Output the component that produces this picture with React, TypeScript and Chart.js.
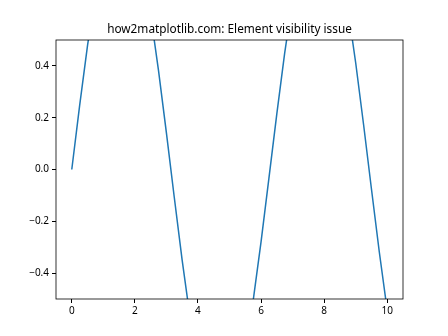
import React, { useEffect, useRef } from "react";
import { Chart, registerables } from "chart.js";

Chart.register(...registerables);

const titleText = "how2matplotlib.com: Element visibility issue";
const xValues = [0, 0.25, 0.5, 0.75, 1, 1.25, 1.5, 1.75, 2, 2.25, 2.5, 2.75, 3, 3.25, 3.5, 3.75, 4, 4.25, 4.5, 4.75, 5, 5.25, 5.5, 5.75, 6, 6.25, 6.5, 6.75, 7, 7.25, 7.5, 7.75, 8, 8.25, 8.5, 8.75, 9, 9.25, 9.5, 9.75, 10];
const yValues = [0, 0.2474, 0.4794, 0.6816, 0.8415, 0.949, 0.9975, 0.984, 0.9093, 0.7781, 0.5985, 0.3817, 0.1411, -0.1082, -0.3508, -0.5716, -0.7568, -0.895, -0.9775, -0.9993, -0.9589, -0.8589, -0.7055, -0.5064, -0.2794, -0.0332, 0.2151, 0.45, 0.657, 0.8231, 0.938, 0.9946, 0.9894, 0.9228, 0.7985, 0.6247, 0.4121, 0.1738, -0.0752, -0.3195, -0.544];
const xTicks = [0, 2, 4, 6, 8, 10];
const yTicks = [-0.4, -0.2, 0, 0.2, 0.4];
const xRange = [-0.5, 10.5];
const yRange = [-0.5, 0.5];

const FONT = "'Noto Sans', 'Open Sans', sans-serif";

export default function App() {
  const ref = useRef<HTMLCanvasElement | null>(null);
  useEffect(() => {
    document.body.style.margin = "0";
    const canvas = ref.current!;
    const framePlugin = {
      id: "frameTitle",
      afterDraw(chart: any) {
        const { ctx, chartArea: a } = chart;
        ctx.save();
        ctx.strokeStyle = "#000";
        ctx.lineWidth = 0.8;
        ctx.strokeRect(a.left, a.top, a.right - a.left, a.bottom - a.top);
        ctx.fillStyle = "#000";
        ctx.font = `11.8px ${FONT}`;
        ctx.textAlign = "center";
        ctx.textBaseline = "alphabetic";
        ctx.fillText(titleText, (a.left + a.right) / 2, a.top - 7);
        ctx.restore();
      },
    };
    const chart = new Chart(canvas, {
      type: "line",
      data: {
        datasets: [
          {
            data: xValues.map((x, i) => ({ x, y: yValues[i] })),
            borderColor: "#1f77b4",
            borderWidth: 1.5,
            pointRadius: 0,
            fill: false,
            tension: 0,
          },
        ],
      },
      options: {
        animation: false,
        responsive: false,
        events: [],
        layout: { padding: { top: 40, right: 45, left: 0, bottom: 0 } },
        plugins: { legend: { display: false }, tooltip: { enabled: false }, title: { display: false } },
        scales: {
          x: {
            type: "linear",
            min: xRange[0],
            max: xRange[1],
            afterBuildTicks: (s: any) => {
              s.ticks = xTicks.map((v) => ({ value: v }));
            },
            afterFit: (s: any) => {
              s.height = 37;
            },
            grid: { drawOnChartArea: false, drawTicks: true, tickLength: 4, tickColor: "#000" },
            border: { display: false },
            ticks: {
              color: "#000",
              padding: 2,
              maxRotation: 0,
              autoSkip: false,
              font: { family: FONT, size: 10 },
              callback: (v: any) => String(v),
            },
          },
          y: {
            type: "linear",
            min: yRange[0],
            max: yRange[1],
            afterBuildTicks: (s: any) => {
              s.ticks = yTicks.map((v) => ({ value: v }));
            },
            afterFit: (s: any) => {
              s.width = 56;
            },
            grid: { drawOnChartArea: false, drawTicks: true, tickLength: 4, tickColor: "#000" },
            border: { display: false },
            ticks: {
              color: "#000",
              padding: 3,
              autoSkip: false,
              font: { family: FONT, size: 10 },
              callback: (v: any) => {
                const n = Number(v);
                const s = Math.abs(n).toFixed(1);
                return n < -1e-9 ? "\u2212" + s : s;
              },
            },
          },
        },
      },
      plugins: [framePlugin],
    });
    return () => chart.destroy();
  }, []);
  return (
    <div style={{ width: 448, height: 336, background: "#fff" }}>
      <canvas ref={ref} width={448} height={336} style={{ display: "block" }} />
    </div>
  );
}
